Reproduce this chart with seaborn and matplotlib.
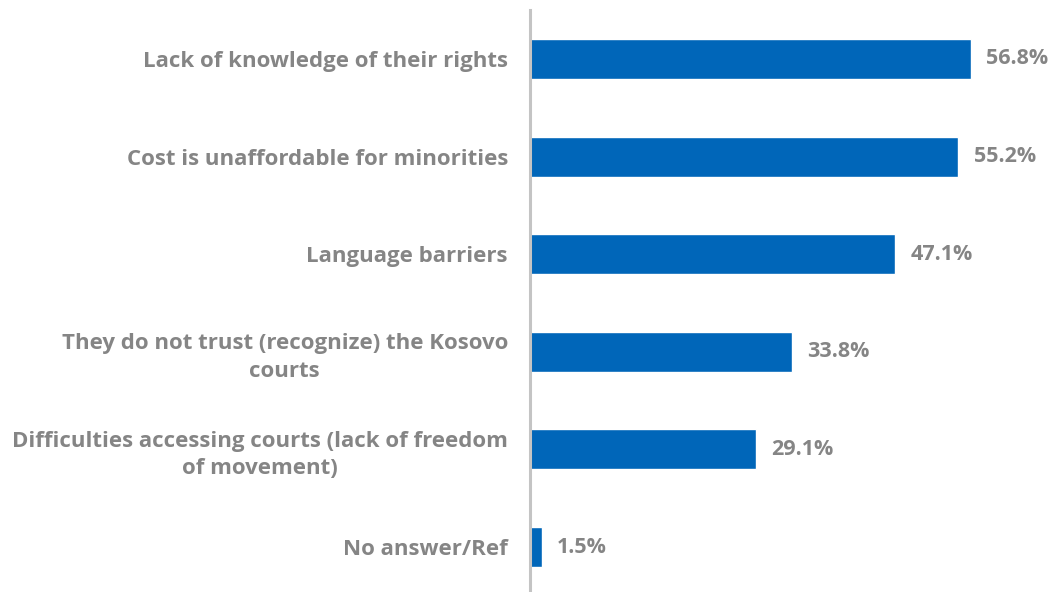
import matplotlib
matplotlib.use("Agg")
import matplotlib.pyplot as plt
import seaborn as sns
import pandas as pd

categories = [
    "Lack of knowledge of their rights",
    "Cost is unaffordable for minorities",
    "Language barriers",
    "They do not trust (recognize) the Kosovo\ncourts",
    "Difficulties accessing courts (lack of freedom\nof movement)",
    "No answer/Ref",
]
values = [56.8, 55.2, 47.1, 33.8, 29.1, 1.5]

sns.set_theme(style="white")
plt.rcParams["font.family"] = ["Open Sans", "DejaVu Sans"]

TEXT = "#858585"
BAR = "#0066B9"

df = pd.DataFrame({"reason": categories, "share": values})

fig = plt.figure(figsize=(10.56, 5.92), dpi=100)
ax = fig.add_axes([0.502, 0.0, 0.498, 0.983])

sns.barplot(data=df, y="reason", x="share", orient="h", color=BAR,
            width=0.41, saturation=1, ax=ax)

ax.set_xlim(0, 67.8)
ax.set_ylim(5.46, -0.5)
ax.set_xlabel("")
ax.set_ylabel("")
ax.set_xticks([])

for s in ["top", "right", "bottom"]:
    ax.spines[s].set_visible(False)
ax.spines["left"].set_color("#C4C4C4")
ax.spines["left"].set_linewidth(2.2)

ax.tick_params(axis="y", length=0, pad=16)
for lbl in ax.get_yticklabels():
    lbl.set_fontsize(16)
    lbl.set_fontweight("bold")
    lbl.set_color(TEXT)
    lbl.set_multialignment("center")
    lbl.set_linespacing(1.4)

for cont in ax.containers:
    ax.bar_label(cont, labels=[f"{v:.1f}%" for v in values], padding=11,
                 fontsize=15.5, fontweight="bold", color=TEXT)

fig.savefig("out.png", dpi=100)
